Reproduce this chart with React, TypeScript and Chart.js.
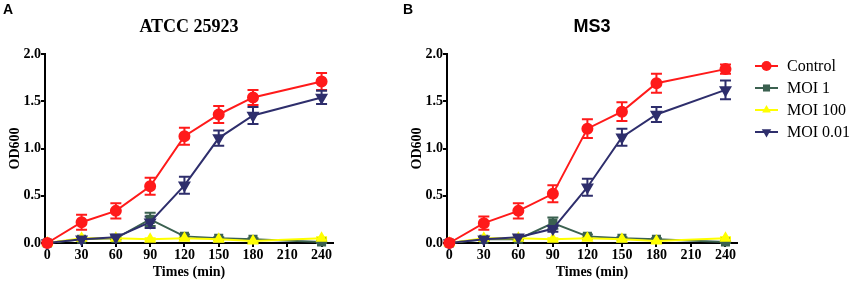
import React, { useEffect, useRef } from "react";
import { Chart, registerables } from "chart.js";

Chart.register(...registerables);

const times = [0, 30, 60, 90, 120, 150, 180, 240];
const xTicks = [0, 30, 60, 90, 120, 150, 180, 210, 240];
const yTicks = [0, 0.5, 1.0, 1.5, 2.0];
const seriesNames = ["Control", "MOI 1", "MOI 100", "MOI 0.01"];

// Panel A: ATCC 25923
const aControl = [0.0, 0.22, 0.34, 0.6, 1.13, 1.36, 1.54, 1.71];
const aControlErr = [0.01, 0.08, 0.08, 0.09, 0.09, 0.09, 0.08, 0.09];
const aMoi1 = [0.0, 0.04, 0.05, 0.25, 0.07, 0.05, 0.04, 0.01];
const aMoi1Err = [0.0, 0.01, 0.01, 0.07, 0.02, 0.01, 0.01, 0.01];
const aMoi100 = [0.0, 0.05, 0.05, 0.04, 0.05, 0.04, 0.02, 0.05];
const aMoi100Err = [0.0, 0.01, 0.01, 0.01, 0.01, 0.01, 0.01, 0.01];
const aMoi001 = [0.0, 0.04, 0.06, 0.22, 0.61, 1.11, 1.35, 1.54];
const aMoi001Err = [0.0, 0.01, 0.02, 0.06, 0.09, 0.08, 0.09, 0.07];

// Panel B: MS3
const bControl = [0.0, 0.21, 0.34, 0.52, 1.21, 1.39, 1.69, 1.84];
const bControlErr = [0.01, 0.07, 0.08, 0.09, 0.1, 0.1, 0.1, 0.05];
const bMoi1 = [0.0, 0.04, 0.04, 0.21, 0.07, 0.05, 0.04, 0.01];
const bMoi1Err = [0.0, 0.01, 0.01, 0.06, 0.02, 0.01, 0.01, 0.01];
const bMoi100 = [0.0, 0.05, 0.05, 0.04, 0.05, 0.04, 0.02, 0.05];
const bMoi100Err = [0.0, 0.01, 0.01, 0.01, 0.01, 0.01, 0.01, 0.01];
const bMoi001 = [0.0, 0.04, 0.06, 0.15, 0.59, 1.12, 1.36, 1.62];
const bMoi001Err = [0.0, 0.01, 0.02, 0.03, 0.09, 0.09, 0.08, 0.1];

const colors = ["#ff1a1a", "#3b6150", "#ffff00", "#2e2e6c"];
const pointStyles = ["circle", "rect", "triangle", "triangle"];
const pointRotations = [0, 0, 0, 180];
const pointRadii = [5, 5, 5, 5.5];
const drawOrder = [0, 3, 2, 1];

const SERIF = '"Liberation Serif", "Times New Roman", serif';
const SANS = '"Liberation Sans", Arial, sans-serif';

const errorBarPlugin = {
  id: "errorBars",
  beforeDatasetsDraw(chart: any) {
    const ctx = chart.ctx;
    const yScale = chart.scales.y;
    const metas = chart.getSortedVisibleDatasetMetas();
    for (const meta of metas) {
      const ds: any = chart.data.datasets[meta.index];
      const errs: number[] = ds.errors || [];
      ctx.save();
      ctx.strokeStyle = ds.borderColor;
      ctx.lineWidth = 2;
      meta.data.forEach((el: any, i: number) => {
        const e = errs[i];
        if (!e) return;
        const v = ds.data[i].y;
        const yt = yScale.getPixelForValue(v + e);
        const yb = yScale.getPixelForValue(v - e);
        const x = el.x;
        ctx.beginPath();
        ctx.moveTo(x, yt);
        ctx.lineTo(x, yb);
        ctx.moveTo(x - 5.5, yt);
        ctx.lineTo(x + 5.5, yt);
        ctx.moveTo(x - 5.5, yb);
        ctx.lineTo(x + 5.5, yb);
        ctx.stroke();
      });
      ctx.restore();
    }
  },
};

const panelTextPlugin = {
  id: "panelText",
  afterDraw(chart: any, _args: any, opts: any) {
    const ctx = chart.ctx;
    ctx.save();
    ctx.fillStyle = "#000";
    ctx.textBaseline = "alphabetic";
    ctx.textAlign = "left";
    ctx.font = `bold 14px ${SANS}`;
    ctx.fillText(opts.letter, opts.letterX, 14);
    ctx.textAlign = "center";
    ctx.font = opts.titleFont;
    const cx = (chart.chartArea.left + chart.chartArea.right) / 2;
    ctx.fillText(opts.title, cx, 32);
    ctx.restore();
  },
};

function drawMarker(ctx: CanvasRenderingContext2D, style: string, x: number, y: number, r: number, rot: number) {
  ctx.beginPath();
  if (style === "circle") {
    ctx.arc(x, y, r, 0, Math.PI * 2);
  } else if (style === "rect") {
    const s = r * Math.SQRT1_2;
    ctx.rect(x - s, y - s, 2 * s, 2 * s);
  } else {
    const a = (rot * Math.PI) / 180;
    for (let k = 0; k < 3; k++) {
      const ang = a + (k * 2 * Math.PI) / 3 - Math.PI / 2;
      const px = x + Math.cos(ang) * r;
      const py = y + Math.sin(ang) * r;
      if (k === 0) ctx.moveTo(px, py);
      else ctx.lineTo(px, py);
    }
    ctx.closePath();
  }
  ctx.fill();
}

const legendPlugin = {
  id: "customLegend",
  afterDraw(chart: any, _args: any, opts: any) {
    if (!opts.show) return;
    const ctx = chart.ctx;
    const x0 = opts.x;
    chart.data.datasets.forEach((ds: any, i: number) => {
      const y = opts.y + i * 22;
      ctx.save();
      ctx.strokeStyle = ds.borderColor;
      ctx.lineWidth = 2;
      ctx.beginPath();
      ctx.moveTo(x0, y);
      ctx.lineTo(x0 + 23, y);
      ctx.stroke();
      ctx.fillStyle = ds.borderColor;
      drawMarker(ctx, ds.pointStyle, x0 + 11.5, y, ds.pointRadius, ds.pointRotation || 0);
      ctx.fillStyle = "#000";
      ctx.font = `16px ${SERIF}`;
      ctx.textBaseline = "middle";
      ctx.textAlign = "left";
      ctx.fillText(ds.label, x0 + 32, y + 1);
      ctx.restore();
    });
  },
};

function makeDatasets(vals: number[][], errs: number[][]) {
  return seriesNames.map((name, i) => ({
    label: name,
    data: times.map((t, j) => ({ x: t, y: vals[i][j] })),
    errors: errs[i],
    order: drawOrder[i],
    borderColor: colors[i],
    backgroundColor: colors[i],
    pointBackgroundColor: colors[i],
    pointBorderColor: colors[i],
    pointStyle: pointStyles[i],
    pointRotation: pointRotations[i],
    pointRadius: pointRadii[i],
    borderWidth: 2,
    tension: 0,
    clip: false as any,
  }));
}

function makeConfig(datasets: any[], panel: any, legend: any, rightPad: number): any {
  return {
    type: "line",
    data: { datasets },
    plugins: [errorBarPlugin, panelTextPlugin, legendPlugin],
    options: {
      responsive: false,
      animation: false,
      devicePixelRatio: 1,
      layout: { padding: { top: 54, left: 0, right: rightPad, bottom: 0 } },
      plugins: {
        legend: { display: false },
        tooltip: { enabled: false },
        title: { display: false },
        panelText: panel,
        customLegend: legend,
      },
      scales: {
        x: {
          type: "linear",
          min: -2,
          max: 250,
          afterBuildTicks: (s: any) => {
            s.ticks = xTicks.map((v) => ({ value: v }));
          },
          afterFit: (s: any) => {
            s.height = 40;
          },
          grid: { display: true, drawOnChartArea: false, drawTicks: true, tickLength: 4, color: "#000", lineWidth: 2 },
          border: { display: true, color: "#000", width: 2 },
          ticks: {
            autoSkip: false,
            maxRotation: 0,
            padding: 0,
            color: "#000",
            font: { family: SERIF, size: 14, weight: "bold" },
          },
          title: {
            display: true,
            text: "Times (min)",
            color: "#000",
            font: { family: SERIF, size: 14, weight: "bold" },
            padding: { top: 0, bottom: 2 },
          },
        },
        y: {
          type: "linear",
          min: 0,
          max: 2.0,
          afterBuildTicks: (s: any) => {
            s.ticks = yTicks.map((v) => ({ value: v }));
          },
          afterFit: (s: any) => {
            s.width = 45;
          },
          grid: { display: true, drawOnChartArea: false, drawTicks: true, tickLength: 4, color: "#000", lineWidth: 2 },
          border: { display: true, color: "#000", width: 2 },
          ticks: {
            autoSkip: false,
            padding: 0,
            color: "#000",
            font: { family: SERIF, size: 14, weight: "bold" },
            callback: (v: any) => Number(v).toFixed(1),
          },
          title: {
            display: true,
            text: "OD600",
            color: "#000",
            font: { family: SERIF, size: 14, weight: "bold" },
            padding: { top: 7, bottom: 0 },
          },
        },
      },
    },
  };
}

export default function App() {
  const refA = useRef<HTMLCanvasElement>(null);
  const refB = useRef<HTMLCanvasElement>(null);

  useEffect(() => {
    const chartA = new Chart(
      refA.current as HTMLCanvasElement,
      makeConfig(
        makeDatasets([aControl, aMoi1, aMoi100, aMoi001], [aControlErr, aMoi1Err, aMoi100Err, aMoi001Err]),
        { letter: "A", letterX: 3, title: "ATCC 25923", titleFont: `bold 18px ${SERIF}` },
        { show: false },
        87
      )
    );
    const chartB = new Chart(
      refB.current as HTMLCanvasElement,
      makeConfig(
        makeDatasets([bControl, bMoi1, bMoi100, bMoi001], [bControlErr, bMoi1Err, bMoi100Err, bMoi001Err]),
        { letter: "B", letterX: 1, title: "MS3", titleFont: `bold 18px ${SANS}` },
        { show: true, x: 353, y: 66 },
        114
      )
    );
    return () => {
      chartA.destroy();
      chartB.destroy();
    };
  }, []);

  return (
    <div style={{ position: "absolute", left: 0, top: 0, width: 851, height: 283, background: "#fff" }}>
      <canvas ref={refA} width={420} height={283} style={{ position: "absolute", left: 0, top: 0 }} />
      <canvas ref={refB} width={449} height={283} style={{ position: "absolute", left: 402, top: 0 }} />
    </div>
  );
}
